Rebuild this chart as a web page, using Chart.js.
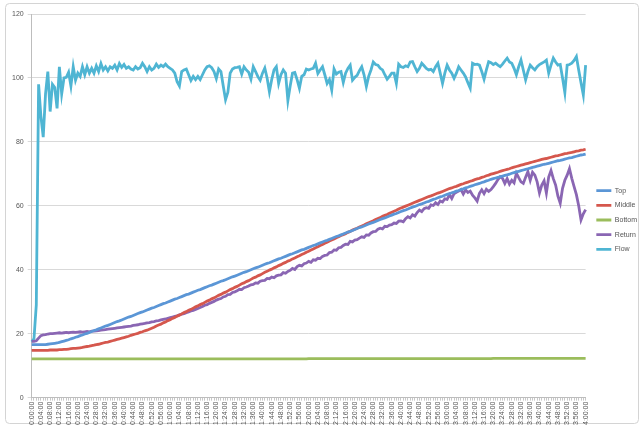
<!DOCTYPE html>
<html>
<head>
<meta charset="utf-8">
<script src="https://cdn.jsdelivr.net/npm/chart.js@4.4.1/dist/chart.umd.min.js"></script>
<style>
  html, body { margin: 0; padding: 0; background: #ffffff; }
  #wrap { position: relative; width: 640px; height: 428px; }
</style>
</head>
<body>
<div id="wrap"><canvas id="c" width="640" height="428"></canvas></div>
<script>
// One reading per minute, 0:00:00 .. 4:00:00
const sampleCount = 241;
const timeLabels = [];
for (let m = 0; m < sampleCount; m++) {
  const h = Math.floor(m / 60), mm = m % 60;
  timeLabels.push(h + ':' + String(mm).padStart(2, '0') + ':00');
}

const yTicks = [0, 20, 40, 60, 80, 100, 120];

const topTemp = [
  16.6,16.6,16.6,16.6,16.6,16.6,16.6,16.7,16.8,16.9,17.0,17.1,17.3,17.5,17.7,17.9,18.1,18.4,18.6,18.9,
  19.1,19.4,19.6,19.9,20.1,20.4,20.7,21.0,21.2,21.5,21.8,22.1,22.4,22.6,22.9,23.2,23.5,23.8,24.0,24.3,
  24.6,24.9,25.2,25.4,25.7,26.0,26.3,26.6,26.8,27.1,27.4,27.7,28.0,28.2,28.5,28.8,29.1,29.4,29.6,29.9,
  30.2,30.5,30.8,31.0,31.3,31.6,31.9,32.2,32.4,32.7,33.0,33.3,33.6,33.8,34.1,34.4,34.7,35.0,35.2,35.5,
  35.8,36.1,36.4,36.6,36.9,37.2,37.5,37.8,38.0,38.3,38.6,38.9,39.2,39.4,39.7,40.0,40.3,40.6,40.8,41.1,
  41.4,41.7,42.0,42.2,42.5,42.8,43.1,43.4,43.6,43.9,44.2,44.5,44.8,45.0,45.3,45.6,45.9,46.2,46.4,46.7,
  47.0,47.3,47.6,47.8,48.1,48.4,48.7,49.0,49.2,49.5,49.8,50.1,50.4,50.6,50.9,51.2,51.5,51.8,52.0,52.3,
  52.6,52.9,53.2,53.4,53.7,54.0,54.3,54.6,54.8,55.1,55.4,55.7,56.0,56.2,56.5,56.8,57.1,57.4,57.6,57.9,
  58.2,58.5,58.7,59.0,59.3,59.6,59.8,60.1,60.4,60.6,60.9,61.2,61.4,61.7,62.0,62.2,62.5,62.8,63.0,63.3,
  63.6,63.8,64.1,64.3,64.6,64.8,65.1,65.3,65.6,65.8,66.1,66.3,66.6,66.8,67.0,67.3,67.5,67.8,68.0,68.3,
  68.5,68.7,68.9,69.1,69.3,69.5,69.7,69.9,70.2,70.4,70.6,70.8,71.0,71.2,71.4,71.6,71.8,72.0,72.2,72.4,
  72.6,72.8,73.0,73.1,73.3,73.5,73.7,73.9,74.1,74.2,74.4,74.6,74.8,75.0,75.1,75.3,75.5,75.7,75.9,76.0,
  76.2
];

const middleTemp = [
  14.8,14.8,14.8,14.8,14.8,14.8,14.8,14.8,14.9,14.9,14.9,14.9,15.0,15.0,15.1,15.1,15.2,15.3,15.4,15.4,
  15.5,15.6,15.7,15.9,16.0,16.1,16.3,16.4,16.6,16.7,16.9,17.1,17.3,17.4,17.6,17.8,18.0,18.2,18.4,18.6,
  18.8,19.0,19.2,19.5,19.7,19.9,20.1,20.4,20.6,20.9,21.1,21.4,21.7,22.0,22.4,22.7,23.0,23.4,23.7,24.1,
  24.4,24.8,25.1,25.5,25.8,26.2,26.6,26.9,27.3,27.6,28.0,28.4,28.7,29.1,29.4,29.8,30.2,30.5,30.9,31.2,
  31.6,32.0,32.3,32.7,33.0,33.4,33.8,34.1,34.5,34.8,35.2,35.6,35.9,36.3,36.6,37.0,37.4,37.7,38.1,38.4,
  38.8,39.2,39.5,39.9,40.2,40.6,40.9,41.3,41.6,42.0,42.3,42.7,43.0,43.4,43.7,44.1,44.4,44.8,45.1,45.5,
  45.8,46.2,46.5,46.9,47.2,47.6,47.9,48.3,48.6,49.0,49.3,49.6,50.0,50.3,50.7,51.0,51.3,51.7,52.0,52.4,
  52.7,53.0,53.4,53.7,54.0,54.4,54.7,55.0,55.3,55.7,56.0,56.3,56.7,57.0,57.3,57.7,58.0,58.3,58.6,59.0,
  59.3,59.6,59.9,60.2,60.5,60.8,61.1,61.4,61.7,62.0,62.3,62.6,62.9,63.1,63.4,63.7,64.0,64.2,64.5,64.8,
  65.1,65.4,65.6,65.9,66.1,66.4,66.7,66.9,67.2,67.4,67.7,67.9,68.2,68.4,68.6,68.9,69.1,69.4,69.6,69.9,
  70.1,70.3,70.5,70.8,71.0,71.2,71.4,71.6,71.9,72.1,72.3,72.5,72.7,72.9,73.1,73.3,73.5,73.7,73.9,74.1,
  74.3,74.5,74.7,74.8,75.0,75.2,75.4,75.6,75.7,75.9,76.1,76.3,76.4,76.6,76.7,76.9,77.1,77.2,77.4,77.5,
  77.7
];

const bottomTemp = [
  12.1,12.1,12.1,12.1,12.1,12.1,12.1,12.1,12.1,12.1,12.1,12.1,12.1,12.1,12.1,12.1,12.1,12.1,12.1,12.1,
  12.1,12.1,12.1,12.1,12.1,12.1,12.1,12.1,12.1,12.1,12.1,12.1,12.1,12.1,12.1,12.1,12.1,12.1,12.1,12.1,
  12.1,12.1,12.1,12.1,12.1,12.1,12.1,12.1,12.1,12.1,12.1,12.1,12.1,12.1,12.1,12.1,12.1,12.1,12.1,12.1,
  12.1,12.1,12.1,12.1,12.1,12.1,12.1,12.1,12.1,12.1,12.1,12.1,12.1,12.1,12.1,12.1,12.1,12.1,12.1,12.1,
  12.1,12.1,12.1,12.1,12.1,12.1,12.1,12.1,12.1,12.1,12.1,12.1,12.1,12.1,12.1,12.1,12.1,12.1,12.1,12.1,
  12.1,12.1,12.1,12.1,12.1,12.1,12.1,12.1,12.1,12.1,12.1,12.1,12.1,12.1,12.1,12.1,12.1,12.1,12.1,12.1,
  12.2,12.2,12.2,12.2,12.2,12.2,12.2,12.2,12.2,12.2,12.2,12.2,12.2,12.2,12.2,12.2,12.2,12.2,12.2,12.2,
  12.2,12.2,12.2,12.2,12.2,12.2,12.2,12.2,12.2,12.2,12.2,12.2,12.2,12.2,12.2,12.2,12.2,12.2,12.2,12.2,
  12.2,12.2,12.2,12.2,12.2,12.2,12.2,12.2,12.2,12.2,12.2,12.2,12.2,12.2,12.2,12.2,12.2,12.2,12.2,12.2,
  12.2,12.2,12.2,12.2,12.2,12.2,12.2,12.2,12.2,12.2,12.2,12.2,12.2,12.2,12.2,12.2,12.2,12.2,12.2,12.2,
  12.3,12.3,12.3,12.3,12.3,12.3,12.3,12.3,12.3,12.3,12.3,12.3,12.3,12.3,12.3,12.3,12.3,12.3,12.3,12.3,
  12.3,12.3,12.3,12.3,12.3,12.3,12.3,12.3,12.3,12.3,12.3,12.3,12.3,12.3,12.3,12.3,12.3,12.3,12.3,12.3,
  12.3
];

const returnTemp = [
  17.6,17.6,17.8,18.6,19.4,19.6,19.7,19.9,20.0,20.0,20.1,20.2,20.3,20.2,20.3,20.4,20.3,20.4,20.5,20.4,
  20.5,20.6,20.5,20.6,20.7,20.6,20.8,20.8,20.9,21.0,21.1,21.2,21.3,21.4,21.5,21.6,21.7,21.8,21.9,22.0,
  22.1,22.2,22.3,22.4,22.6,22.7,22.8,23.0,23.1,23.2,23.4,23.5,23.7,23.8,24.0,24.1,24.3,24.5,24.6,24.8,
  25.0,25.2,25.4,25.6,25.9,26.1,26.3,26.6,26.8,27.1,27.3,27.6,27.9,28.2,28.5,28.9,29.1,29.5,29.8,30.1,
  30.5,30.8,31.0,31.5,31.7,32.2,32.3,32.9,33.1,33.4,33.9,33.8,34.4,34.6,34.9,35.3,35.4,35.9,35.8,36.4,
  36.6,36.7,37.3,37.2,37.7,37.5,38.1,38.3,38.4,39.1,38.9,39.5,39.8,40.4,40.1,41.0,41.4,41.2,41.9,42.1,
  42.6,42.3,43.1,43.0,43.6,43.5,44.2,44.5,44.6,45.4,45.5,46.2,46.1,46.9,47.0,47.6,48.0,47.9,48.9,48.7,
  49.3,49.4,49.9,50.3,50.1,50.9,50.8,51.5,51.9,52.0,52.7,53.0,52.8,53.6,53.5,54.0,54.1,54.6,54.5,55.2,
  55.3,55.0,56.0,56.6,56.2,57.2,56.8,57.9,58.7,58.2,59.1,59.4,59.2,60.3,60.1,61.0,60.4,61.5,61.2,62.2,
  62.0,63.5,62.3,63.8,64.2,64.6,65.1,63.7,65.0,64.2,64.6,63.3,62.5,61.5,63.9,65.0,63.8,65.2,64.5,65.1,
  66.0,67.0,68.2,69.1,68.6,67.0,68.5,66.8,68.0,67.2,70.2,68.8,67.5,67.0,68.9,70.7,68.0,70.5,69.6,67.5,
  64.0,66.5,67.8,64.0,69.0,71.0,68.5,66.5,63.0,60.8,65.5,68.0,69.6,71.6,68.6,66.0,63.5,60.0,55.6,57.5,
  58.8
];

const flowRate = [
  17.5,18.5,29.0,98.0,88.0,81.5,95.0,102.0,89.5,98.0,97.0,90.5,103.5,95.0,100.0,100.2,101.8,97.5,103.5,99.3,
  101.5,100.5,103.5,101.0,103.5,101.5,103.0,101.5,103.8,102.0,104.5,102.5,103.5,102.2,103.5,103.0,104.0,102.5,104.5,103.3,
  104.2,103.0,103.5,102.8,102.5,103.5,102.8,103.2,104.6,103.5,102.0,103.5,102.5,103.0,104.3,103.3,104.0,103.5,104.3,103.5,
  103.0,102.5,101.5,98.8,97.5,102.0,102.5,102.8,101.0,99.2,100.5,99.5,100.5,99.5,101.0,102.5,103.5,103.8,103.2,102.0,
  99.8,102.8,102.0,97.5,93.2,95.5,101.5,102.8,103.2,103.3,103.5,101.2,103.5,102.5,101.8,99.6,103.5,102.0,100.4,99.3,
  101.5,103.1,100.0,95.7,99.5,102.5,103.5,98.3,101.0,102.5,101.5,92.9,97.5,101.5,101.7,99.5,96.8,100.5,101.0,102.8,
  102.5,102.8,103.0,104.6,101.4,102.5,103.5,101.0,98.3,99.5,96.2,102.8,101.2,101.8,102.0,98.6,101.5,103.0,104.0,99.3,
  100.2,100.8,102.3,103.5,101.0,97.3,100.5,102.5,105.0,104.2,104.0,103.0,102.5,101.0,99.6,100.5,101.5,101.5,98.3,104.3,
  103.5,103.3,103.8,103.5,105.0,105.1,103.5,102.0,103.0,104.6,103.8,103.0,102.5,102.7,102.0,103.5,104.6,101.5,98.3,101.5,
  104.0,102.5,101.5,99.9,101.5,103.5,102.5,101.5,100.3,98.5,96.8,104.6,104.2,104.3,104.0,102.0,99.6,102.5,105.1,104.8,
  104.2,104.6,104.0,103.5,104.3,105.3,106.2,105.0,104.6,103.0,101.0,103.5,105.6,102.5,99.4,102.0,104.0,103.2,102.5,103.5,
  104.2,104.6,105.0,105.6,101.5,104.0,106.2,105.0,104.0,104.2,100.0,95.4,104.0,104.2,104.6,105.5,106.7,102.5,98.5,94.7,
  104.0
];

const seriesNames = ['Top', 'Middle', 'Bottom', 'Return', 'Flow'];
const seriesColors = ['#5b96d6', '#d5574d', '#9bbd5c', '#8a66b3', '#4fb5d3'];
const seriesData = [topTemp, middleTemp, bottomTemp, returnTemp, flowRate];

// Light rounded frame around the whole chart
const framePlugin = {
  id: 'frame',
  beforeDraw(chart) {
    const ctx = chart.ctx;
    ctx.save();
    ctx.fillStyle = '#ffffff';
    ctx.fillRect(0, 0, chart.width, chart.height);
    ctx.strokeStyle = '#d4d4d4';
    ctx.lineWidth = 1;
    ctx.beginPath();
    ctx.roundRect(5.5, 3.5, 633, 420, 4);
    ctx.stroke();
    ctx.restore();
  }
};

// Leave a gap between the plot and the legend entries
const legendGapPlugin = {
  id: 'legendGap',
  afterLayout(chart) {
    const lg = chart.legend;
    if (lg) { lg.left += 3; lg.right += 3; }
  }
};

new Chart(document.getElementById('c'), {
  type: 'line',
  data: {
    labels: timeLabels,
    datasets: seriesNames.map((name, i) => ({
      label: name,
      data: seriesData[i],
      borderColor: seriesColors[i],
      backgroundColor: seriesColors[i],
      borderWidth: 2.8,
      pointRadius: 0,
      pointHoverRadius: 0,
      tension: 0,
      fill: false
    }))
  },
  options: {
    responsive: false,
    animation: false,
    layout: { padding: { left: 8, right: -4, top: 14, bottom: 2 } },
    plugins: {
      legend: {
        position: 'right',
        align: 'center',
        labels: {
          usePointStyle: true,
          pointStyle: 'line',
          pointStyleWidth: 15,
          boxHeight: 7,
          padding: 7.7,
          color: '#555555',
          font: { family: 'Liberation Sans, Arial, sans-serif', size: 7 }
        }
      },
      tooltip: { enabled: false }
    },
    scales: {
      x: {
        type: 'category',
        offset: false,
        grid: {
          display: true,
          drawOnChartArea: false,
          drawTicks: true,
          tickLength: 3,
          color: '#c8c8c8'
        },
        border: { display: true, color: '#bdbdbd', width: 1 },
        ticks: {
          autoSkip: false,
          maxRotation: 90,
          minRotation: 90,
          padding: 1,
          color: '#555555',
          font: { family: 'Liberation Sans, Arial, sans-serif', size: 7 },
          callback: function (value, index) {
            return index % 4 === 0 ? timeLabels[index] : '';
          }
        }
      },
      y: {
        min: 0,
        max: 120,
        afterBuildTicks(scale) {
          scale.ticks = yTicks.map(v => ({ value: v }));
        },
        grid: {
          color: '#d9d9d9',
          lineWidth: 1,
          drawTicks: true,
          tickLength: 4
        },
        border: { display: true, color: '#bdbdbd', width: 1 },
        ticks: {
          padding: 4,
          color: '#555555',
          font: { family: 'Liberation Sans, Arial, sans-serif', size: 7 }
        }
      }
    }
  },
  plugins: [framePlugin, legendGapPlugin]
});
</script>
</body>
</html>
